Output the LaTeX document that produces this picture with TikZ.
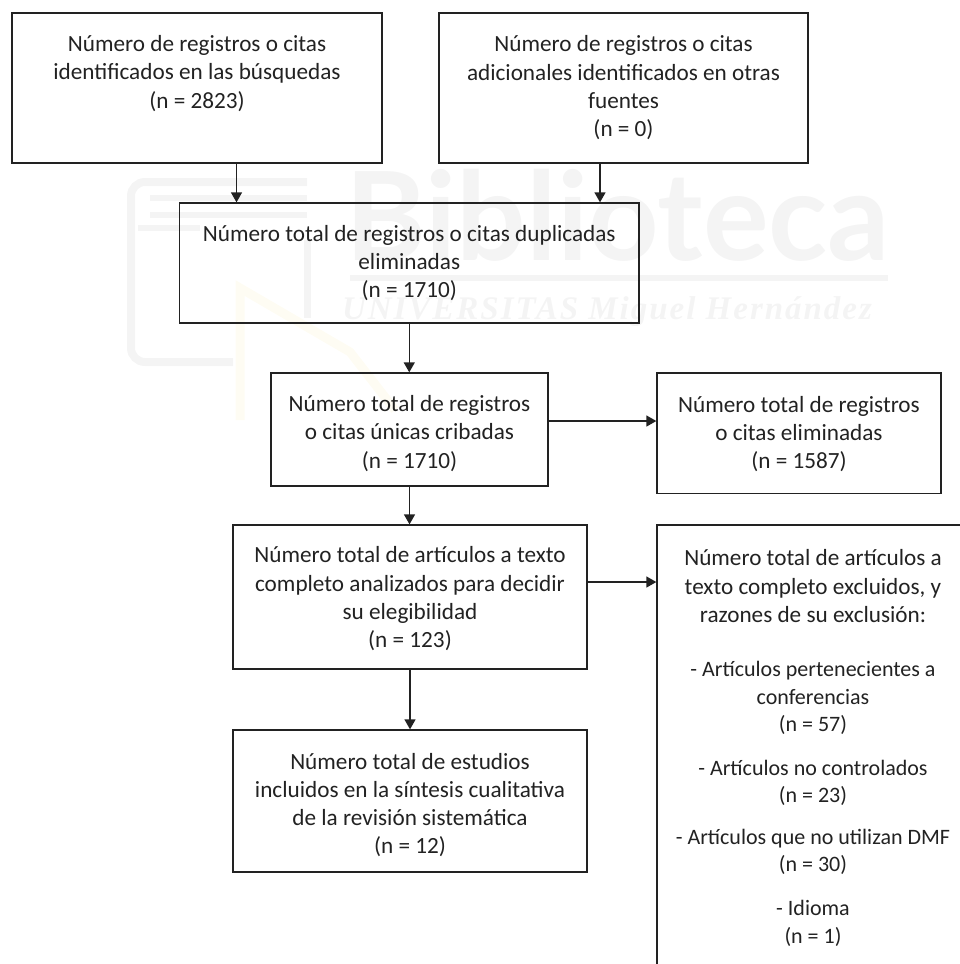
\documentclass[tikz,border=0pt]{standalone}
\usepackage{fontspec}
\setmainfont{Carlito}
\newfontfamily\wmfont{Lato}
\newfontfamily\wmserif[LetterSpace=6]{Liberation Serif}
\usetikzlibrary{arrows.meta}
\definecolor{ink}{HTML}{222222}
\definecolor{wm}{HTML}{F4F4F4}
\definecolor{wmy}{HTML}{FEFCF3}
\newcommand\lift[2]{\raisebox{#1}[0pt][0pt]{\begin{tabular}{@{}c@{}}#2\end{tabular}}}
\newcommand\lf{\fontsize{22}{27.5}\selectfont}
\tikzset{
  bx/.style={draw=ink,line width=1.3pt,rectangle,inner sep=0pt,text=ink,
    font=\fontsize{23.2}{28.3}\selectfont},
  arr/.style={draw=ink,line width=1.4pt,-{Triangle[length=10pt,width=11pt]}}
}
\begin{document}
\begin{tikzpicture}[x=1pt,y=-1pt]
\useasboundingbox (0,0) rectangle (960,964);
% faint background watermark
\draw[wm,line width=8pt,rounded corners=14pt] (307,182) -- (131,182) -- (131,362) -- (233,362);
\draw[wm,line width=6pt] (150,198) -- (307,198);
\draw[wm,line width=6pt] (150,215) -- (307,215);
\draw[wm,line width=6pt] (138,228) -- (200,228);
\draw[wm,line width=7pt] (307,240) -- (307,318);
\draw[wmy,line width=9pt] (240,420) -- (240,288) -- (350,352) -- (395,410);
\node[wm,font=\wmfont\bfseries\fontsize{123}{123}\selectfont,anchor=base west,inner sep=0pt] (wmA) at (345,260) {Biblioteca};
\draw[wm,line width=6pt] (350,278) -- (888,278);
\node[wm,font=\wmserif\bfseries\itshape\fontsize{33}{33}\selectfont,anchor=base,inner sep=0pt] (wmB) at (607,319) {UNIVERSITAS Miguel Hernández};
% boxes
\node[bx,minimum width=370pt,minimum height=150pt] (A) at (197,88) {\lift{7.5pt}{Número de registros o citas\\identificados en las búsquedas\\(n = 2823)}};
\node[bx,minimum width=369pt,minimum height=150pt] (B) at (623.5,88) {\lift{-7pt}{Número de registros o citas\\adicionales identificados en otras\\fuentes\\(n = 0)}};
\node[bx,minimum width=459.5pt,minimum height=120pt] (C) at (409.25,263) {\lift{-7pt}{Número total de registros o citas duplicadas\\eliminadas\\(n = 1710)}};
\node[bx,minimum width=277pt,minimum height=113pt] (D) at (409.5,429.5) {\lift{-11pt}{Número total de registros\\o citas únicas cribadas\\(n = 1710)}};
\node[bx,minimum width=284pt,minimum height=120.5pt] (E) at (799,433.25) {\lift{-8pt}{Número total de registros\\o citas eliminadas\\(n = 1587)}};
\node[bx,minimum width=354pt,minimum height=144pt] (F) at (410,597) {\lift{-9pt}{Número total de artículos a texto\\completo analizados para decidir\\su elegibilidad\\(n = 123)}};
\node[bx,minimum width=354pt,minimum height=142pt] (H) at (410,801) {\lift{-11pt}{Número total de estudios\\incluidos en la síntesis cualitativa\\de la revisión sistemática\\(n = 12)}};
\node[bx,minimum width=312pt,minimum height=450pt] (G) at (813,750) {\lift{-5pt}{Número total de artículos a\\texto completo excluidos, y\\razones de su exclusión:\\[26pt]\lf - Artículos pertenecientes a\\[-0.8pt]\lf conferencias\\[-0.8pt]\lf (n = 57)\\[15pt]\lf - Artículos no controlados\\[-0.8pt]\lf (n = 23)\\[13.5pt]\lf - Artículos que no utilizan DMF\\[-0.8pt]\lf (n = 30)\\[15.5pt]\lf - Idioma\\[-0.8pt]\lf (n = 1)}};
% connectors
\draw[arr] ([xshift=39.5pt]A.south) -- ([xshift=39.5pt]A.south |- C.north);
\draw[arr] ([xshift=-23.5pt]B.south) -- ([xshift=-23.5pt]B.south |- C.north);
\draw[arr] (C.south) -- (C.south |- D.north);
\draw[arr] (D.south) -- (D.south |- F.north);
\draw[arr] ([yshift=8.5pt]D.east) -- ([yshift=8.5pt]D.east -| E.west);
\draw[arr] ([yshift=15pt]F.east) -- ([yshift=15pt]F.east -| G.west);
\draw[arr] (F.south) -- (F.south |- H.north);
\end{tikzpicture}
\end{document}
